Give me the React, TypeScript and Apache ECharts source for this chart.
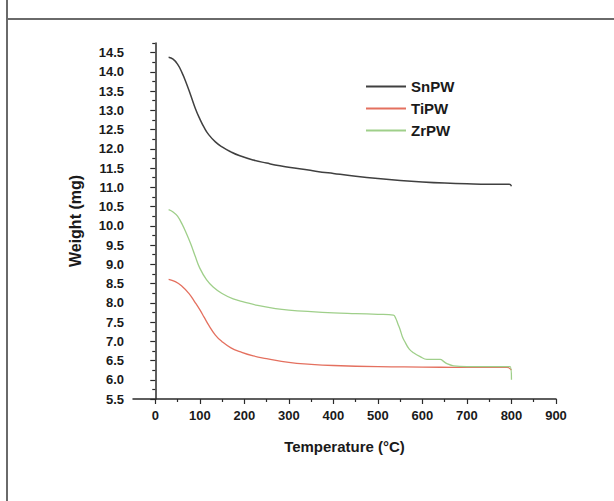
import React, { useEffect, useRef } from "react";
import * as echarts from "echarts";

const seriesNames = ["SnPW", "TiPW", "ZrPW"];

const snT = [30, 40, 50, 60, 70, 80, 90, 100, 110, 120, 135, 150, 170, 190, 220, 250, 280, 320, 360, 400, 450, 500, 550, 600, 650, 700, 750, 795, 800];
const snW = [14.38, 14.33, 14.2, 13.98, 13.7, 13.38, 13.05, 12.78, 12.55, 12.37, 12.18, 12.05, 11.92, 11.82, 11.71, 11.63, 11.56, 11.49, 11.42, 11.36, 11.29, 11.23, 11.18, 11.14, 11.11, 11.09, 11.08, 11.08, 11.03];

const tiT = [30, 45, 60, 75, 90, 100, 110, 120, 135, 150, 170, 190, 220, 250, 300, 350, 400, 500, 600, 700, 790, 800];
const tiW = [8.61, 8.55, 8.43, 8.25, 8.0, 7.82, 7.62, 7.42, 7.16, 6.99, 6.83, 6.73, 6.62, 6.55, 6.45, 6.4, 6.37, 6.34, 6.33, 6.32, 6.32, 6.25];

const zrT = [30, 40, 50, 60, 70, 80, 90, 100, 115, 130, 150, 175, 200, 230, 270, 300, 350, 400, 450, 500, 535, 540, 545, 550, 555, 560, 570, 580, 595, 610, 640, 648, 655, 670, 700, 750, 797, 800];
const zrW = [10.42, 10.36, 10.25, 10.05, 9.8, 9.52, 9.2, 8.9, 8.6, 8.41, 8.24, 8.1, 8.02, 7.93, 7.85, 7.81, 7.77, 7.74, 7.72, 7.7, 7.68, 7.6, 7.45, 7.3, 7.12, 7.0, 6.8, 6.7, 6.6, 6.53, 6.53, 6.47, 6.42, 6.36, 6.34, 6.34, 6.34, 6.0];

const xMajorTicks = [0, 100, 200, 300, 400, 500, 600, 700, 800, 900];
const xMinorTicks = [50, 150, 250, 350, 450, 550, 650, 750, 850];
const yMajorTicks = [5.5, 6.0, 6.5, 7.0, 7.5, 8.0, 8.5, 9.0, 9.5, 10.0, 10.5, 11.0, 11.5, 12.0, 12.5, 13.0, 13.5, 14.0, 14.5];
const yMinorTicks = [5.75, 6.25, 6.75, 7.25, 7.75, 8.25, 8.75, 9.25, 9.75, 10.25, 10.75, 11.25, 11.75, 12.25, 12.75, 13.25, 13.75, 14.25, 14.75];

const colors = ["#404040", "#e4705f", "#9fcf8a"];

const zip = (t: number[], w: number[]) => t.map((v, i) => [v, w[i]]);

const FONT = "'Liberation Sans', Arial, sans-serif";

export default function App() {
  const ref = useRef<HTMLDivElement>(null);
  useEffect(() => {
    if (!ref.current) return;
    const chart = echarts.init(ref.current, undefined, { renderer: "svg" });
    const grid = { left: 133, right: 58, top: 43, bottom: 102 };
    const axisLine = { show: true, lineStyle: { color: "#2a2a2a", width: 1.5 } };
    chart.setOption({
      animation: false,
      backgroundColor: "#ffffff",
      grid: [grid, grid],
      graphic: [
        { type: "line", shape: { x1: 7, y1: 0, x2: 7, y2: 501 }, style: { stroke: "#6a6a6a", lineWidth: 2 } },
        { type: "line", shape: { x1: 7, y1: 19, x2: 614, y2: 19 }, style: { stroke: "#6a6a6a", lineWidth: 2 } },
      ],
      legend: {
        orient: "vertical",
        left: 361,
        top: 74,
        itemWidth: 40,
        itemHeight: 2,
        itemGap: 7,
        icon: "rect",
        data: seriesNames,
        textStyle: { fontFamily: FONT, fontWeight: "bold", fontSize: 15, color: "#1a1a1a" },
      },
      xAxis: [
        {
          type: "value",
          gridIndex: 0,
          min: -50,
          max: 900,
          splitLine: { show: false },
          axisLine,
          axisTick: { show: true, length: 5, inside: false, customValues: xMajorTicks, lineStyle: { color: "#2a2a2a", width: 1.2 } },
          axisLabel: { customValues: xMajorTicks, margin: 10, fontFamily: FONT, fontWeight: "bold", fontSize: 13, color: "#1a1a1a" },
          name: "Temperature (°C)",
          nameLocation: "middle",
          nameGap: 40,
          nameTextStyle: { fontFamily: FONT, fontWeight: "bold", fontSize: 15, color: "#1a1a1a" },
        },
        {
          type: "value",
          gridIndex: 1,
          min: -50,
          max: 900,
          splitLine: { show: false },
          axisLine: { show: false },
          axisTick: { show: true, length: 3, customValues: xMinorTicks, lineStyle: { color: "#2a2a2a", width: 1.2 } },
          axisLabel: { show: false },
        },
      ],
      yAxis: [
        {
          type: "value",
          gridIndex: 0,
          min: 5.5,
          max: 14.75,
          splitLine: { show: false },
          axisLine,
          axisTick: { show: true, length: 5, customValues: yMajorTicks, lineStyle: { color: "#2a2a2a", width: 1.2 } },
          axisLabel: {
            customValues: yMajorTicks,
            margin: 9,
            formatter: (v: number) => v.toFixed(1),
            fontFamily: FONT,
            fontWeight: "bold",
            fontSize: 13,
            color: "#1a1a1a",
          },
          name: "Weight (mg)",
          nameLocation: "middle",
          nameGap: 50,
          nameTextStyle: { fontFamily: FONT, fontWeight: "bold", fontSize: 16, color: "#1a1a1a" },
        },
        {
          type: "value",
          gridIndex: 1,
          min: 5.5,
          max: 14.75,
          splitLine: { show: false },
          axisLine: { show: false },
          axisTick: { show: true, length: 3, customValues: yMinorTicks, lineStyle: { color: "#2a2a2a", width: 1.2 } },
          axisLabel: { show: false },
        },
      ],
      series: [
        {
          name: seriesNames[0],
          type: "line",
          xAxisIndex: 0,
          yAxisIndex: 0,
          data: zip(snT, snW),
          showSymbol: false,
          smooth: 0.5,
          lineStyle: { color: colors[0], width: 1.5 },
          itemStyle: { color: colors[0] },
        },
        {
          name: seriesNames[1],
          type: "line",
          xAxisIndex: 0,
          yAxisIndex: 0,
          data: zip(tiT, tiW),
          showSymbol: false,
          smooth: 0.5,
          lineStyle: { color: colors[1], width: 1.3 },
          itemStyle: { color: colors[1] },
        },
        {
          name: seriesNames[2],
          type: "line",
          xAxisIndex: 0,
          yAxisIndex: 0,
          data: zip(zrT, zrW),
          showSymbol: false,
          smooth: 0.4,
          lineStyle: { color: colors[2], width: 1.3 },
          itemStyle: { color: colors[2] },
        },
      ],
    });
    return () => chart.dispose();
  }, []);
  return (
    <div
      ref={ref}
      style={{ position: "absolute", left: 0, top: 0, width: 614, height: 501, background: "#fff" }}
    />
  );
}
